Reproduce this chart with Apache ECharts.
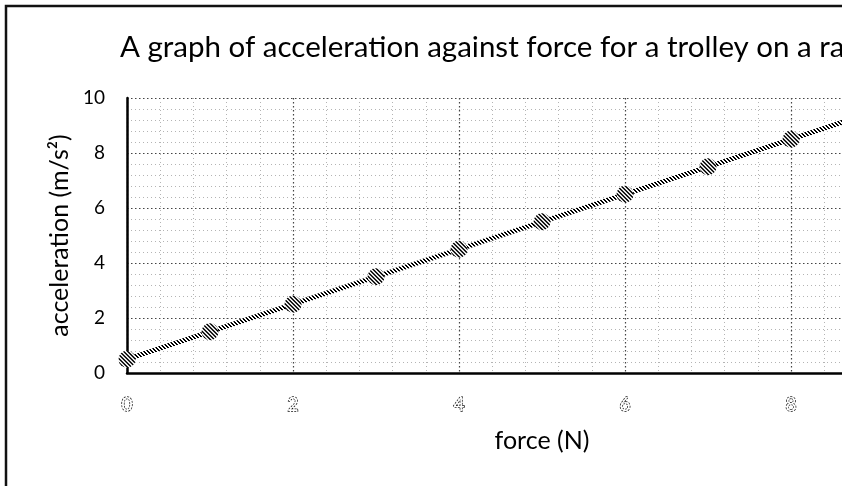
<!DOCTYPE html>
<html>
<head>
<meta charset="utf-8">
<script src="https://cdn.jsdelivr.net/npm/echarts@6/dist/echarts.min.js"></script>
<style>
  html, body { margin: 0; padding: 0; background: #fff; }
  #chart { width: 842px; height: 486px; }
</style>
</head>
<body>
<div id="chart"></div>
<script>
// data
const forceN = [0, 1, 2, 3, 4, 5, 6, 7, 8, 9];
const accel = [0.5, 1.5, 2.5, 3.5, 4.5, 5.5, 6.5, 7.5, 8.5, 9.5];
const xTicks = [0, 2, 4, 6, 8, 10];
const yTicks = [0, 2, 4, 6, 8, 10];

const markerSize = 17;

// striped fill like the original markers / line (pixel tile, "\" stripes)
function hatch(scale) {
  const n = 4;
  const c = document.createElement("canvas");
  c.width = n;
  c.height = n;
  const ctx = c.getContext("2d");
  ctx.fillStyle = "#fff";
  ctx.fillRect(0, 0, n, n);
  ctx.fillStyle = "#000";
  for (let i = 0; i < n; i++) {
    ctx.fillRect(i, i, 1, 1);
    ctx.fillRect((i + 1) % n, i, 1, 1);
  }
  // symbols are drawn at unit size and scaled up, so shrink the tile back
  return { image: c, repeat: "repeat", scaleX: scale, scaleY: scale };
}

const chart = echarts.init(document.getElementById("chart"));
const font = "Lato";

const option = {
  animation: false,
  backgroundColor: "#fff",
  title: {
    text: "A graph of acceleration against force for a trolley on a ramp",
    left: 120,
    top: 32,
    padding: 0,
    textStyle: { fontFamily: font, fontSize: 29.5, fontWeight: "normal", color: "#000" },
  },
  graphic: [
    {
      type: "rect",
      shape: { x: 6, y: 6, width: 1200, height: 800 },
      style: { fill: null, stroke: "#111", lineWidth: 2.5 },
      silent: true,
    },
  ],
  grid: { left: 127, top: 98, bottom: 113, right: -115, outerBoundsMode: "none" },
  xAxis: {
    type: "value",
    min: xTicks[0],
    max: xTicks[xTicks.length - 1],
    interval: 2,
    name: "force (N)",
    nameLocation: "middle",
    nameGap: 55,
    nameTextStyle: { fontFamily: font, fontSize: 25, color: "#000" },
    axisLine: { show: true, onZero: false, lineStyle: { color: "#000", width: 2.5 } },
    axisTick: { show: false },
    axisLabel: {
      margin: 22,
      fontFamily: font,
      fontSize: 19,
      color: "#fff",
      textBorderColor: "#111",
      textBorderWidth: 1.5,
      textBorderType: [2, 1.2],
    },
    splitLine: { show: true, lineStyle: { color: "#444", type: [1.5, 2.5], width: 1.2 } },
    minorTick: { show: false, splitNumber: 5 },
    minorSplitLine: { show: true, lineStyle: { color: "#b4b4b4", type: [1, 3], width: 1 } },
  },
  yAxis: {
    type: "value",
    min: yTicks[0],
    max: yTicks[yTicks.length - 1],
    interval: 2,
    name: "acceleration (m/s²)",
    nameLocation: "middle",
    nameGap: 42,
    nameTextStyle: { fontFamily: font, fontSize: 25, color: "#000" },
    axisLine: { show: true, lineStyle: { color: "#000", width: 2.5 } },
    axisTick: { show: false },
    axisLabel: { margin: 22, fontFamily: font, fontSize: 19, color: "#000" },
    splitLine: { show: true, lineStyle: { color: "#444", type: [1.5, 2.5], width: 1.2 } },
    minorTick: { show: false, splitNumber: 5 },
    minorSplitLine: { show: true, lineStyle: { color: "#b4b4b4", type: [1, 3], width: 1 } },
  },
  series: [
    {
      type: "line",
      data: forceN.map((f, i) => [f, accel[i]]),
      symbol: "circle",
      symbolSize: markerSize,
      itemStyle: { color: hatch(2 / markerSize), borderWidth: 0 },
      lineStyle: { color: hatch(1), width: 5 },
      emphasis: { disabled: true },
    },
  ],
};

chart.setOption(option);
</script>
</body>
</html>
